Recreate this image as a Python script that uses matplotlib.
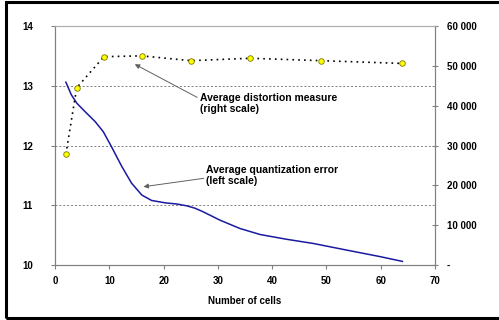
import matplotlib
matplotlib.use("Agg")
import matplotlib.pyplot as plt
from matplotlib.patches import Rectangle

# Average quantization error (left scale)
qe_x = [2, 3, 4, 5.5, 7.4, 8.9, 10.4, 12.3, 14.1, 16, 17.8, 20.3, 22.5, 24.3,
        25.8, 27.3, 30.4, 34.1, 37.8, 42.7, 47.6, 53.7, 59.9, 64]
qe_y = [13.06, 12.85, 12.71, 12.57, 12.40, 12.23, 11.98, 11.65, 11.37, 11.17,
        11.08, 11.04, 11.02, 10.99, 10.95, 10.89, 10.75, 10.61, 10.51, 10.43,
        10.36, 10.25, 10.14, 10.06]

# Average distortion measure (right scale)
cells = [2, 4, 9, 16, 25, 36, 49, 64]
distortion = [27800, 44500, 52300, 52500, 51300, 51900, 51300, 50600]

right_ticks = [0, 10000, 20000, 30000, 40000, 50000, 60000]
right_labels = ["-", "10 000", "20 000", "30 000", "40 000", "50 000", "60 000"]

plt.rcParams['font.family'] = ['Liberation Sans', 'DejaVu Sans']
plt.rcParams['font.weight'] = 'bold'
plt.rcParams['font.size'] = 7

fig = plt.figure(figsize=(4.99, 3.2), dpi=100)
ax = fig.add_axes([55 / 499, 1 - 265 / 320, 380 / 499, 239 / 320])
ax2 = ax.twinx()

grey = '#808080'

# left axis: quantization error
ax.plot(qe_x, qe_y, color='#1a1aa0', lw=1.1, zorder=3)
ax.set_xlim(0, 70)
ax.set_ylim(10, 14)
ax.set_xticks(range(0, 71, 10))
ax.set_yticks([10, 11, 12, 13, 14])
for y in [11, 12, 13]:
    ax.axhline(y, color=grey, lw=0.7, ls=(0, (2, 2)), zorder=1)
ax.tick_params(axis='y', direction='out', length=3, pad=13, color=grey, width=0.8)
ax.tick_params(axis='x', direction='out', length=3, pad=5, color=grey, width=0.8)
ax.set_xlabel('Number of cells', fontweight='bold', labelpad=7)

# right axis: distortion measure
ax2.plot(cells, distortion, color='black', lw=1.2, ls=(0, (1, 2.5)),
         marker='o', markersize=4, markerfacecolor='#ffff00',
         markeredgecolor='#7a7a00', markeredgewidth=0.6, zorder=4)
ax2.set_ylim(0, 60000)
ax2.set_yticks(right_ticks)
ax2.set_yticklabels(right_labels)
ax2.tick_params(axis='y', direction='inout', length=5, pad=6, color=grey, width=0.8)

for a in (ax, ax2):
    for s in a.spines.values():
        s.set_color(grey)
        s.set_linewidth(0.8)
    a.spines['top'].set_color('#b0b0b0')

ax.annotate('Average distortion measure\n(right scale)', xy=(14.7, 13.36),
            xytext=(26.7, 12.88), va='top', ha='left', fontsize=7.5,
            fontweight='bold', linespacing=1.15,
            arrowprops=dict(arrowstyle='-|>', color='#606060', lw=0.7,
                            mutation_scale=7, shrinkA=0, shrinkB=0,
                            relpos=(0, 0.72)))
ax.annotate('Average quantization error\n(left scale)', xy=(16.3, 11.31),
            xytext=(27.9, 11.67), va='top', ha='left', fontsize=7.5,
            fontweight='bold', linespacing=1.15,
            arrowprops=dict(arrowstyle='-|>', color='#606060', lw=0.7,
                            mutation_scale=7, shrinkA=0, shrinkB=0,
                            relpos=(0, 0.4)))

# thick black frame around the chart
fig.patches.append(Rectangle((6 / 499, 2 / 320), 500 / 499, 316 / 320,
                             transform=fig.transFigure, fill=False,
                             edgecolor='black', lw=2.2))

fig.savefig('out.png', dpi=100)
